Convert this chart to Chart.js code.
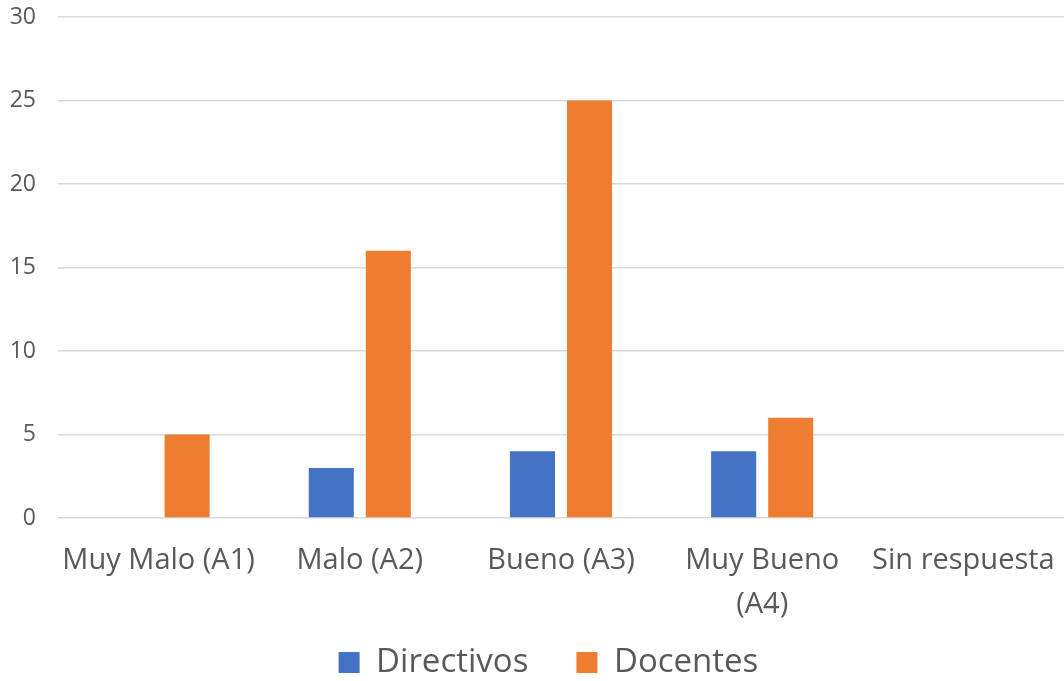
<!DOCTYPE html>
<html>
<head>
<meta charset="utf-8">
<script src="https://cdn.jsdelivr.net/npm/chart.js@4"></script>
<style>
html,body{margin:0;padding:0;background:#fff;}
#wrap{width:1064px;height:681px;position:relative;}
</style>
</head>
<body>
<div id="wrap"><canvas id="c" width="1064" height="681"></canvas></div>
<script>
const categories = ["Muy Malo (A1)", "Malo (A2)", "Bueno (A3)", ["Muy Bueno", "(A4)"], "Sin respuesta"];
const directivos = [0, 3, 4, 4, 0];
const docentes = [5, 16, 25, 6, 0];
const yTicks = [0, 5, 10, 15, 20, 25, 30];

const FONT = "'Open Sans', 'Noto Sans', sans-serif";
new Chart(document.getElementById('c'), {
  type: 'bar',
  data: {
    labels: categories,
    datasets: [
      { label: 'Directivos', data: directivos, backgroundColor: '#4472C4', categoryPercentage: 0.567, barPercentage: 0.79 },
      { label: 'Docentes', data: docentes, backgroundColor: '#ED7D31', categoryPercentage: 0.567, barPercentage: 0.79 }
    ]
  },
  options: {
    responsive: false,
    animation: false,
    layout: { padding: { top: 17, right: 0, left: 0, bottom: 0 } },
    plugins: {
      tooltip: { enabled: false },
      legend: {
        position: 'bottom',
        fullSize: false,
        maxHeight: 58,
        labels: {
          color: '#595959',
          font: { family: FONT, size: 33 },
          boxWidth: 21, boxHeight: 21,
          padding: 23,
          generateLabels: (chart) => {
            const items = Chart.defaults.plugins.legend.labels.generateLabels(chart);
            if (items.length > 1) {
              items[0].text += '\u2002 ';
              items[1].text += '\u2002 ';
            }
            return items;
          }
        }
      }
    },
    scales: {
      x: {
        afterFit: (s) => { s.height = 105; s.paddingLeft = 0; s.paddingRight = 0; },
        grid: { display: false },
        border: { display: false },
        ticks: { color: '#595959', font: { family: FONT, size: 29, lineHeight: 1.5 }, padding: 13, maxRotation: 0, autoSkip: false }
      },
      y: {
        min: 0, max: 30,
        afterBuildTicks: (s) => { s.ticks = yTicks.map(v => ({ value: v })); },
        afterFit: (s) => { s.width = 58; s.paddingTop = 0; s.paddingBottom = 0; },
        grid: { color: '#d9d9d9', lineWidth: 1.5, drawTicks: false },
        border: { display: false },
        ticks: { color: '#595959', font: { family: FONT, size: 23 }, padding: 22 }
      }
    }
  }
});
</script>
</body>
</html>
